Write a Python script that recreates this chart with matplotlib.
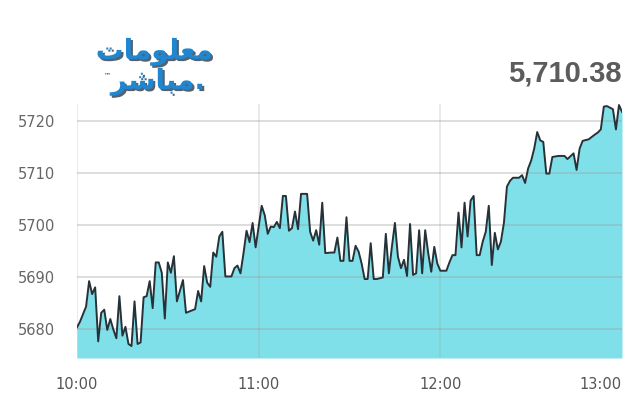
import numpy as np
import matplotlib.pyplot as plt
import matplotlib.patheffects as pe

# minutes after 10:00 and index level
minutes = [0, 1, 3, 4, 5, 6, 7, 8, 9, 10, 11, 12, 13, 14, 15, 16, 17, 18, 19, 20,
           21, 22, 23, 24, 25, 26, 27, 28, 29, 30, 31, 32, 33, 35, 36, 39, 40, 41, 42, 43,
           44, 45, 46, 47, 48, 49, 51, 52, 53, 54, 55, 56, 57, 58, 59, 61, 62, 63, 64, 65,
           66, 67, 68, 69, 70, 71, 72, 73, 74, 76, 77, 78, 79, 80, 81, 82, 84, 85, 86, 87,
           88, 89, 90, 91, 92, 93, 94, 95, 96, 97, 98, 99, 101, 102, 103, 104, 105, 106, 107, 108,
           109, 110, 111, 112, 113, 114, 115, 116, 117, 118, 119, 120, 122, 123, 124, 125, 126, 127, 128, 129,
           130, 131, 132, 133, 134, 135, 136, 137, 138, 139, 140, 141, 142, 143, 144, 146, 147, 148, 149, 150,
           151, 152, 153, 154, 155, 156, 157, 159, 161, 162, 164, 165, 166, 167, 169, 171, 172, 173, 174, 175,
           177, 178, 179, 180]
level = [5680.3, 5681.4, 5684.3, 5689.2, 5686.7, 5688.0, 5677.6, 5683.1, 5683.7, 5679.8,
         5681.9, 5679.9, 5678.2, 5686.3, 5678.7, 5680.4, 5677.1, 5676.7, 5685.3, 5677.1,
         5677.4, 5686.1, 5686.3, 5689.2, 5684.0, 5692.8, 5692.8, 5690.8, 5682.0, 5692.8,
         5690.8, 5694.0, 5685.3, 5689.4, 5683.1, 5683.8, 5687.3, 5685.3, 5692.1, 5688.9,
         5688.1, 5694.7, 5693.9, 5697.8, 5698.7, 5690.1, 5690.1, 5691.7, 5692.2, 5690.7,
         5694.6, 5698.9, 5696.7, 5700.4, 5695.7, 5703.7, 5701.9, 5698.3, 5699.7, 5699.6,
         5700.6, 5699.4, 5705.6, 5705.6, 5698.9, 5699.4, 5702.6, 5699.2, 5706.0, 5706.0,
         5698.7, 5697.0, 5699.0, 5696.2, 5704.3, 5694.6, 5694.7, 5694.7, 5697.6, 5693.1,
         5693.1, 5701.5, 5693.1, 5693.1, 5696.0, 5694.9, 5692.6, 5689.6, 5689.6, 5696.5,
         5689.6, 5689.6, 5689.9, 5698.3, 5690.7, 5695.8, 5700.4, 5693.9, 5691.7, 5693.3,
         5690.2, 5700.2, 5690.4, 5690.7, 5699.0, 5690.7, 5699.0, 5694.6, 5691.0, 5695.8,
         5692.6, 5691.2, 5691.2, 5692.8, 5694.2, 5694.2, 5702.4, 5695.7, 5704.3, 5697.8,
         5704.7, 5705.6, 5694.2, 5694.2, 5696.8, 5698.7, 5703.7, 5692.3, 5698.5, 5695.3,
         5696.8, 5700.4, 5707.4, 5708.5, 5709.1, 5709.1, 5709.6, 5708.1, 5710.9, 5712.4,
         5714.7, 5717.9, 5716.3, 5716.0, 5709.9, 5709.9, 5713.1, 5713.3, 5713.3, 5712.7,
         5713.8, 5710.6, 5714.7, 5716.2, 5716.5, 5717.4, 5717.8, 5718.4, 5722.8, 5722.9,
         5722.3, 5718.4, 5723.1, 5721.8]

y_ticks = [5680, 5690, 5700, 5710, 5720]
x_ticks = [0, 60, 120, 180]
x_labels = ["10:00", "11:00", "12:00", "13:00"]
last_value = "5,710.38"
logo_top = "\ufe95\ufe8e\ufee3\ufeee\ufee0\ufecc\ufee3"      # معلومات (shaped, visual order)
logo_bottom = "\ufeae\ufeb7\ufe8e\ufe92\ufee3."              # مباشر.

fig = plt.figure(figsize=(6.4, 4), dpi=100)
ax = fig.add_axes([77 / 640, 42 / 400, 545 / 640, 254 / 400])

ymin = 5674.4
ax.fill_between(minutes, level, ymin, color="#80e0ea", lw=0, zorder=1)
ax.plot(minutes, level, color="#263238", lw=1.4, zorder=4)

for v in y_ticks:
    ax.axhline(v, color="#9a9a9a", alpha=0.4, lw=1.2, zorder=2)
for t in x_ticks[:-1]:
    ax.axvline(t, color="#9a9a9a", alpha=0.25, lw=1.2, zorder=2)

ax.set_xlim(0, 180)
ax.set_ylim(ymin, 5723.3)
ax.set_yticks(y_ticks)
ax.set_yticklabels([str(v) for v in y_ticks])
ax.set_xticks(x_ticks)
ax.set_xticklabels(x_labels)
ax.get_xticklabels()[-1].set_ha("right")
ax.tick_params(axis="y", length=0, pad=16, labelsize=10.5, labelcolor="#666666")
ax.tick_params(axis="x", length=0, pad=14, labelsize=10.5, labelcolor="#555555")
for s in ax.spines.values():
    s.set_visible(False)

fig.text(622 / 640, 1 - 74 / 400, last_value, ha="right", va="center",
         fontsize=21, fontweight="bold", color="#5c5c5c", family="Liberation Sans")

# logo, blue with a dark drop shadow
shadow = [pe.withSimplePatchShadow(offset=(1.5, -1.5), shadow_rgbFace="#2b3a4a", alpha=0.8)]
fig.text(213 / 640, 1 - 52 / 400, logo_top, ha="right", va="center", fontsize=20,
         fontweight="bold", color="#1f86cf", family="DejaVu Sans", path_effects=shadow)
fig.text(205 / 640, 1 - 82 / 400, logo_bottom, ha="right", va="center", fontsize=20,
         fontweight="bold", color="#1f86cf", family="DejaVu Sans", path_effects=shadow)
fig.text(104 / 640, 1 - 75 / 400, "\u2122", ha="left", va="center", fontsize=5, color="#333333")

fig.savefig("out.png", dpi=100)
